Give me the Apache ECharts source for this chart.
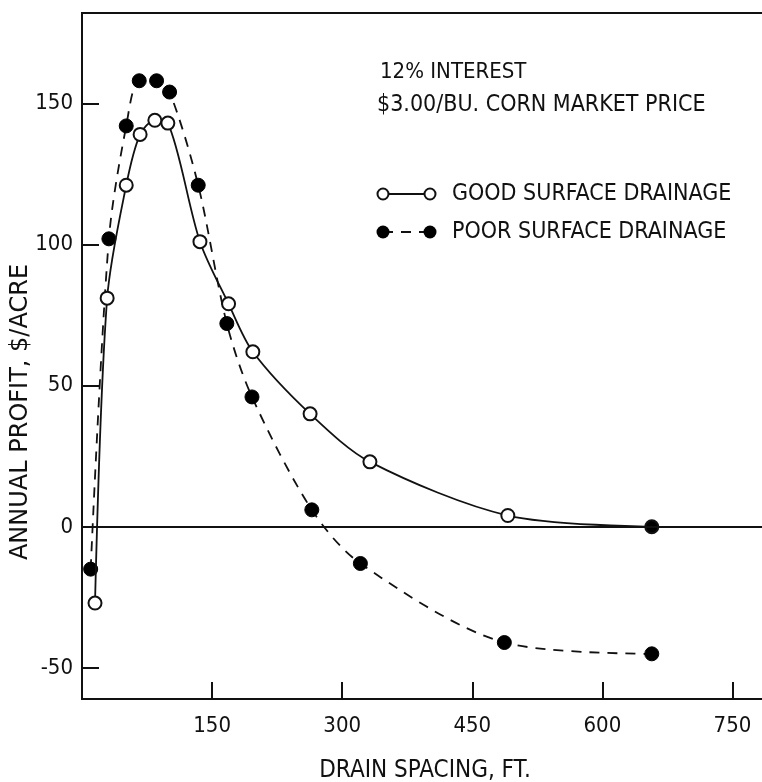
<!DOCTYPE html>
<html>
<head>
<meta charset="utf-8">
<title>Drain spacing vs annual profit</title>
<script src="https://cdn.jsdelivr.net/npm/echarts@6/dist/echarts.min.js"></script>
<style>
  html, body { margin: 0; padding: 0; background: #fff; }
  #chart { width: 762px; height: 782px; }
</style>
</head>
<body>
<div id="chart"></div>
<script>
// drain spacing (ft) and annual profit ($/acre)
const goodX = [15, 29, 51, 67, 84, 99, 136, 169, 197, 263, 332, 491, 657];
const goodY = [-27, 81, 121, 139, 144, 143, 101, 79, 62, 40, 23, 4, 0];
const poorX = [10, 31, 51, 66, 86, 101, 134, 167, 196, 265, 321, 487, 657];
const poorY = [-15, 102, 142, 158, 158, 154, 121, 72, 46, 6, -13, -41, -45];

const xTicks = [150, 300, 450, 600, 750];
const yTicks = [-50, 0, 50, 100, 150];

const titleLines = ['12% INTEREST', '$3.00/BU. CORN MARKET PRICE'];
const legendNames = ['GOOD SURFACE DRAINAGE', 'POOR SURFACE DRAINAGE'];

const FONT = "'DejaVu Sans Condensed', 'Liberation Sans Narrow', sans-serif";
const WIDE = "'DejaVu Sans', sans-serif";

const chart = echarts.init(document.getElementById('chart'));

const goodData = goodX.map((x, i) => {
  const p = { value: [x, goodY[i]] };
  // last point is printed solid in the original
  if (i === goodX.length - 1) p.itemStyle = { color: '#000' };
  return p;
});
const poorData = poorX.map((x, i) => [x, poorY[i]]);

const config = {
  backgroundColor: '#fff',
  animation: false,
  grid: {
    left: 82,
    right: -6,
    top: 13,
    bottom: 83,
    outerBoundsMode: 'none',
    containLabel: false,
    show: true,
    borderColor: '#111',
    borderWidth: 2
  },
  xAxis: {
    type: 'value',
    min: 0,
    max: 791,
    name: 'DRAIN SPACING, FT.',
    nameLocation: 'middle',
    nameGap: 60,
    nameTextStyle: { fontFamily: FONT, fontSize: 24, color: '#111' },
    axisLine: { onZero: false, lineStyle: { color: '#111', width: 2 } },
    axisTick: { inside: true, length: 17, customValues: xTicks, lineStyle: { color: '#111', width: 2 } },
    axisLabel: { customValues: xTicks, margin: 16, fontFamily: FONT, fontSize: 22, color: '#111' },
    splitLine: { show: false }
  },
  yAxis: {
    type: 'value',
    min: -61,
    max: 182,
    axisLine: { onZero: false, lineStyle: { color: '#111', width: 2 } },
    axisTick: { inside: true, length: 17, customValues: yTicks, lineStyle: { color: '#111', width: 2 } },
    axisLabel: { customValues: yTicks, margin: 9, fontFamily: FONT, fontSize: 22, color: '#111' },
    splitLine: { show: false }
  },
  series: [
    {
      name: legendNames[0],
      type: 'line',
      data: goodData,
      smooth: 0.3,
      symbol: 'circle',
      symbolSize: 13,
      lineStyle: { color: '#111', width: 1.8 },
      itemStyle: { color: '#fff', borderColor: '#111', borderWidth: 2 },
      z: 3,
      markLine: {
        silent: true,
        symbol: 'none',
        label: { show: false },
        lineStyle: { color: '#111', width: 1.8, type: 'solid' },
        data: [{ yAxis: 0 }]
      }
    },
    {
      name: legendNames[1],
      type: 'line',
      data: poorData,
      smooth: 0.3,
      symbol: 'circle',
      symbolSize: 14,
      lineStyle: { color: '#111', width: 1.8, type: [10, 8] },
      itemStyle: { color: '#000', borderColor: '#000', borderWidth: 1 },
      z: 2
    }
  ],
  graphic: [
    { type: 'text', x: 380, y: 72, style: { text: titleLines[0], font: '22px ' + FONT, fill: '#111', verticalAlign: 'middle' } },
    { type: 'text', x: 377, y: 105, style: { text: titleLines[1], font: '23px ' + FONT, fill: '#111', verticalAlign: 'middle' } },

    // legend: good
    { type: 'line', shape: { x1: 383, y1: 194, x2: 430, y2: 194 }, style: { stroke: '#111', lineWidth: 1.8 } },
    { type: 'circle', shape: { cx: 383, cy: 194, r: 5.5 }, style: { fill: '#fff', stroke: '#111', lineWidth: 2 } },
    { type: 'circle', shape: { cx: 430, cy: 194, r: 5.5 }, style: { fill: '#fff', stroke: '#111', lineWidth: 2 } },
    { type: 'text', x: 452, y: 194, style: { text: legendNames[0], font: '23px ' + FONT, fill: '#111', verticalAlign: 'middle' } },

    // legend: poor
    { type: 'line', shape: { x1: 383, y1: 232, x2: 430, y2: 232 }, style: { stroke: '#111', lineWidth: 1.8, lineDash: [10, 8] } },
    { type: 'circle', shape: { cx: 383, cy: 232, r: 6.5 }, style: { fill: '#000' } },
    { type: 'circle', shape: { cx: 430, cy: 232, r: 6.5 }, style: { fill: '#000' } },
    { type: 'text', x: 452, y: 232, style: { text: legendNames[1], font: '23px ' + FONT, fill: '#111', verticalAlign: 'middle' } },

    // y axis title
    {
      type: 'text',
      x: 21,
      y: 412,
      rotation: Math.PI / 2,
      style: { text: 'ANNUAL PROFIT, $/ACRE', font: '24px ' + WIDE, fill: '#111', align: 'center', verticalAlign: 'middle' }
    }
  ]
};

chart.setOption(config);
</script>
</body>
</html>
